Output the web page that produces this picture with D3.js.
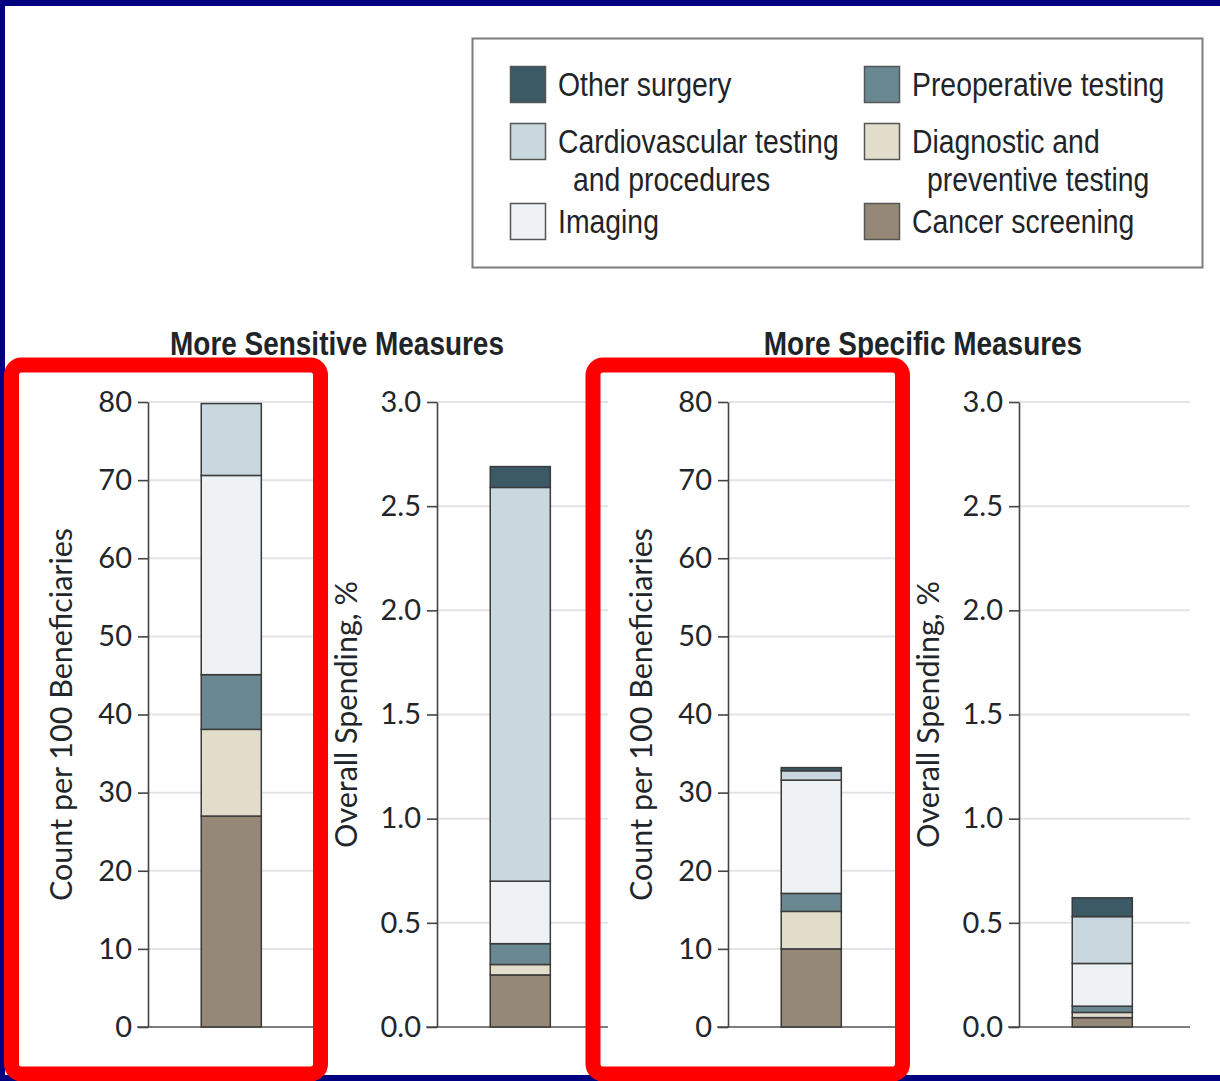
<!DOCTYPE html>
<html>
<head>
<meta charset="utf-8">
<script src="https://cdn.jsdelivr.net/npm/d3@7"></script>
<style>
  html, body { margin: 0; padding: 0; background: #fff; }
  svg { display: block; }
  .narrow { font-family: "Liberation Sans", Arial, sans-serif; }
  .tick-font { font-family: Lato, "Open Sans", sans-serif; }
</style>
</head>
<body>
<svg id="chart" width="1220" height="1081"></svg>
<script>
// Stack order, bottom to top
const categories = [
  "Cancer screening",
  "Diagnostic and preventive testing",
  "Preoperative testing",
  "Imaging",
  "Cardiovascular testing and procedures",
  "Other surgery"
];
const colors = ["#958877", "#e2dccb", "#6a8891", "#eef2f5", "#c9d7de", "#3b5a66"];

// Values per category (same order as categories)
const sensitiveCount    = [27.0, 11.1, 7.0, 25.5, 9.2, 0.0];
const sensitiveSpending = [0.25, 0.05, 0.10, 0.30, 1.89, 0.10];
const specificCount     = [10.0, 4.8, 2.3, 14.5, 1.2, 0.4];
const specificSpending  = [0.045, 0.025, 0.03, 0.205, 0.225, 0.09];

const countTicks    = [0, 10, 20, 30, 40, 50, 60, 70, 80];
const spendingTicks = [0, 0.5, 1.0, 1.5, 2.0, 2.5, 3.0];

const groupTitles = ["More Sensitive Measures", "More Specific Measures"];

// Legend layout: two columns, labels may wrap onto a second line
const legendColumns = [
  [["Other surgery"], ["Cardiovascular testing", "and procedures"], ["Imaging"]],
  [["Preoperative testing"], ["Diagnostic and", "preventive testing"], ["Cancer screening"]]
];
const legendKeys = [
  ["Other surgery", "Cardiovascular testing and procedures", "Imaging"],
  ["Preoperative testing", "Diagnostic and preventive testing", "Cancer screening"]
];

const svg = d3.select("#chart");
const color = d3.scaleOrdinal().domain(categories).range(colors);
const NARROW = 0.86; // horizontal squeeze for the condensed label face

// Condensed text helper: squeezes a regular face horizontally
function narrowText(sel, x, y, txt, opts = {}) {
  const g = sel.append("g").attr("transform", `translate(${x},${y}) scale(${NARROW},1)`);
  return g.append("text").attr("class", "narrow")
    .attr("text-anchor", opts.anchor || "start")
    .attr("font-size", opts.size || 34)
    .attr("font-weight", opts.weight || "normal")
    .attr("fill", "#1f2428")
    .text(txt);
}

// Outer frame
svg.append("rect").attr("x", 0).attr("y", 0).attr("width", 1220).attr("height", 1081).attr("fill", "#000080");
svg.append("rect").attr("x", 5).attr("y", 6).attr("width", 1240).attr("height", 1069).attr("fill", "#ffffff");

// Legend
const legend = svg.append("g");
legend.append("rect")
  .attr("x", 472.5).attr("y", 38.5).attr("width", 730).attr("height", 229)
  .attr("fill", "#fff").attr("stroke", "#7c7c7c").attr("stroke-width", 2);

const colX = [510, 864];
const rowY = [66, 123, 203];
legendColumns.forEach((col, ci) => {
  col.forEach((lines, ri) => {
    const g = legend.append("g").attr("transform", `translate(${colX[ci]},${rowY[ri]})`);
    g.append("rect").attr("x", 0.5).attr("y", 0.5).attr("width", 35).attr("height", 36)
      .attr("fill", color(legendKeys[ci][ri])).attr("stroke", "#555").attr("stroke-width", 1.5);
    lines.forEach((t, li) => {
      narrowText(g, 48 + (li > 0 ? 15 : 0), 30 + li * 38, t, { size: 33 });
    });
  });
});

// Panels
const yTop = 402, yBottom = 1027, panelWidth = 171;
const panels = [
  { x: 148,  values: sensitiveCount,    ticks: countTicks,    max: 80, fmt: d3.format("d"),   title: "Count per 100 Beneficiaries", titleOff: 76 },
  { x: 437,  values: sensitiveSpending, ticks: spendingTicks, max: 3,  fmt: d3.format(".1f"), title: "Overall Spending, %",          titleOff: 80 },
  { x: 728,  values: specificCount,     ticks: countTicks,    max: 80, fmt: d3.format("d"),   title: "Count per 100 Beneficiaries", titleOff: 76 },
  { x: 1019, values: specificSpending,  ticks: spendingTicks, max: 3,  fmt: d3.format(".1f"), title: "Overall Spending, %",          titleOff: 80 }
];

const stack = d3.stack().keys(categories);

panels.forEach(p => {
  const g = svg.append("g").attr("transform", `translate(${p.x},0)`);
  const y = d3.scaleLinear().domain([0, p.max]).range([yBottom, yTop]);
  const x = d3.scaleBand().domain(["all"]).range([0, panelWidth]).paddingInner(0.48).paddingOuter(0.48).align(0.48);

  // gridlines
  g.append("g").selectAll("line").data(p.ticks.filter(d => d > 0)).join("line")
    .attr("x1", 0).attr("x2", panelWidth)
    .attr("y1", d => y(d)).attr("y2", d => y(d))
    .attr("stroke", "#e4e4e4").attr("stroke-width", 2);

  // baseline
  g.append("line").attr("x1", -11).attr("x2", panelWidth)
    .attr("y1", y(0)).attr("y2", y(0)).attr("stroke", "#555").attr("stroke-width", 1.6);

  // y axis
  const axis = g.append("g").call(d3.axisLeft(y).tickValues(p.ticks).tickFormat(p.fmt).tickSize(10).tickPadding(6).tickSizeOuter(0));
  axis.select(".domain").attr("stroke", "#444").attr("stroke-width", 1.6);
  axis.selectAll(".tick line").attr("stroke", "#444").attr("stroke-width", 1.6);
  axis.selectAll(".tick text").attr("class", "tick-font").attr("font-size", 29).attr("fill", "#22262b");

  // axis title
  g.append("text").attr("class", "tick-font")
    .attr("transform", `translate(${-p.titleOff},${(yTop + yBottom) / 2}) rotate(-90)`)
    .attr("text-anchor", "middle").attr("font-size", 30.5).attr("fill", "#22262b")
    .text(p.title);

  // stacked bar
  const row = {};
  categories.forEach((c, i) => row[c] = p.values[i]);
  const series = stack([row]);
  g.append("g").selectAll("rect").data(series.filter(s => s[0][1] - s[0][0] > 0)).join("rect")
    .attr("x", x("all")).attr("width", x.bandwidth())
    .attr("y", s => y(s[0][1])).attr("height", s => y(s[0][0]) - y(s[0][1]))
    .attr("fill", s => color(s.key))
    .attr("stroke", "#3a3a3a").attr("stroke-width", 1.5);
});

// Group titles
const titleX = [337, 923];
groupTitles.forEach((t, i) => {
  narrowText(svg, titleX[i], 355, t, { anchor: "middle", size: 32.5, weight: "bold" });
});

// Highlight boxes around the count panels
const boxes = [{ x: 11.5, w: 309 }, { x: 593, w: 309.5 }];
svg.append("g").selectAll("rect").data(boxes).join("rect")
  .attr("x", d => d.x).attr("y", 365).attr("width", d => d.w).attr("height", 709)
  .attr("rx", 10).attr("fill", "none").attr("stroke", "#ff0000").attr("stroke-width", 15);
</script>
</body>
</html>
